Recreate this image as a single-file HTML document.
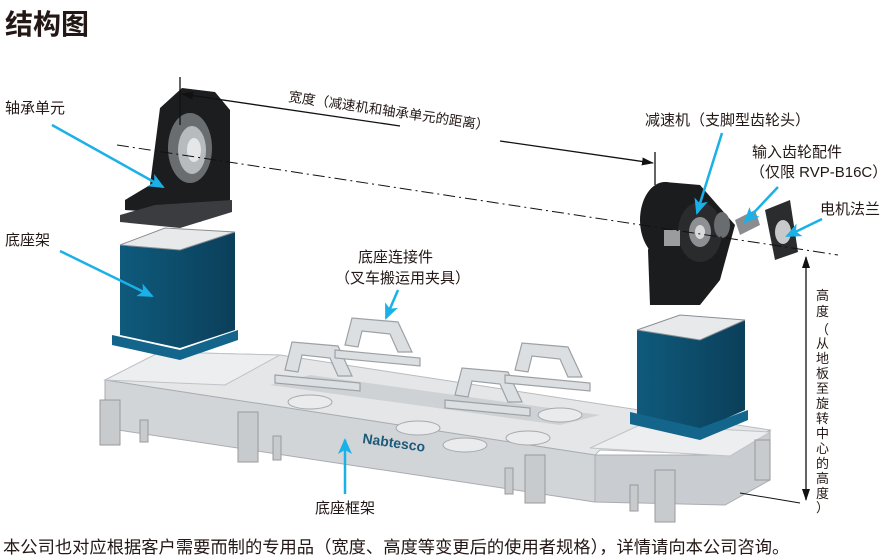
<!DOCTYPE html>
<html><head><meta charset="utf-8">
<style>
body{margin:0;background:#fff;width:889px;height:560px;overflow:hidden;font-family:"Liberation Sans","Noto Sans CJK SC",sans-serif;}
svg{position:absolute;left:0;top:0}
text{font-family:"Liberation Sans","Noto Sans CJK SC",sans-serif;fill:#231815}
</style></head><body>
<svg width="889" height="560" viewBox="0 0 889 560">
<defs>
<marker id="bk" markerWidth="12" markerHeight="8" refX="11" refY="4" orient="auto" markerUnits="userSpaceOnUse"><path d="M0,0L12,4L0,8z" fill="#111"/></marker>
<marker id="bl" markerWidth="16" markerHeight="14" refX="14" refY="7" orient="auto" markerUnits="userSpaceOnUse"><path d="M0,0L16,7L0,14L4,7z" fill="#1ab0e8"/></marker>
<linearGradient id="gb" x1="0" x2="1"><stop offset="0" stop-color="#0f5a7c"/><stop offset="1" stop-color="#0b3f5a"/></linearGradient>
</defs>
<text x="5" y="34" font-size="28" font-weight="bold">结构图</text>

<!-- base frame -->
<polygon points="105,380 160,352 280,355 770,430 730,455 600,450 595,455" fill="#e4e6e8" stroke="#b8bcc0"/>
<polygon points="105,380 595,455 595,502 105,428" fill="#d2d5d8" stroke="#a9adb1"/>
<polygon points="595,455 730,455 770,430 770,480 725,505 595,502" fill="#c9ccd0" stroke="#a9adb1"/>
<polygon points="270,385 560,425 600,415 310,375" fill="#cfd2d5"/>
<polygon points="105,380 160,352 280,355 225,385" fill="#eceef0" stroke="#c0c3c6"/>
<polygon points="590,448 640,425 770,432 730,456" fill="#eceef0" stroke="#c0c3c6"/>
<!-- feet -->
<g fill="#c8cbce" stroke="#999">
<rect x="100" y="400" width="20" height="45"/><rect x="238" y="412" width="20" height="50"/>
<rect x="525" y="455" width="20" height="48"/><rect x="655" y="470" width="20" height="52"/>
<rect x="755" y="440" width="15" height="40"/>
<rect x="140" y="420" width="8" height="22"/><rect x="273" y="436" width="8" height="24"/><rect x="505" y="468" width="8" height="26"/><rect x="630" y="485" width="8" height="26"/>
</g>
<!-- handles -->
<g fill="#dcdfe1" stroke="#9da1a5" stroke-width="1.2">
<path d="M345,345 L352,318 L398,322 L412,352 L398,352 L390,334 L362,331 L358,347z"/>
<path d="M285,370 L292,342 L338,346 L352,376 L338,376 L330,358 L302,355 L298,372z"/>
<path d="M455,395 L462,368 L508,372 L522,402 L508,402 L500,384 L472,381 L468,397z"/>
<path d="M515,370 L522,343 L568,347 L582,377 L568,377 L560,359 L532,356 L528,372z"/>
<path d="M335,350 L420,358 L420,366 L335,358z M275,375 L360,383 L360,391 L275,383z M445,400 L530,408 L530,416 L445,408z M505,375 L590,383 L590,391 L505,383z"/>
</g>
<g fill="#e9ebed" stroke="#a6aaae"><ellipse cx="310" cy="402" rx="22" ry="7"/><ellipse cx="418" cy="428" rx="22" ry="7"/><ellipse cx="528" cy="438" rx="22" ry="7"/><ellipse cx="560" cy="415" rx="22" ry="7"/><ellipse cx="465" cy="445" rx="22" ry="7"/></g>
<text x="0" y="0" font-size="14" font-weight="bold" style="fill:#1d5a7a" transform="translate(362,443) rotate(8)">Nabtesco</text>

<!-- left pedestal -->
<polygon points="120,245 165,228 235,232 235,330 180,348 120,335" fill="url(#gb)"/>
<polygon points="120,245 165,228 235,232 180,250" fill="#e7e9eb" stroke="#8a8f93"/>
<polygon points="112,335 180,350 238,330 238,340 180,360 112,345" fill="#13658b"/>
<!-- bearing unit -->
<polygon points="160,108 182,88 215,92 230,110 230,205 200,222 155,212 125,210 125,200 150,185" fill="#1c1d1f"/>
<ellipse cx="190" cy="148" rx="22" ry="35" fill="#6a6d70"/><ellipse cx="192" cy="150" rx="14" ry="24" fill="#b8bbbe"/><ellipse cx="194" cy="150" rx="7" ry="12" fill="#e4e6e8"/>
<polygon points="120,215 155,205 232,200 232,212 180,228 120,222" fill="#3a3c3f"/>

<!-- right pedestal -->
<polygon points="637,330 680,315 745,320 745,410 700,430 637,418" fill="url(#gb)"/>
<polygon points="637,330 680,315 745,320 700,340" fill="#e7e9eb" stroke="#8a8f93"/>
<polygon points="630,412 700,428 748,410 748,420 700,440 630,424" fill="#13658b"/>
<!-- reducer -->
<ellipse cx="665" cy="220" rx="25" ry="38" fill="#1b1c1e"/>
<polygon points="665,182 700,185 735,225 720,280 700,305 650,305 648,250" fill="#1b1c1e"/>
<ellipse cx="700" cy="232" rx="22" ry="30" fill="#2a2b2d"/>
<ellipse cx="700" cy="232" rx="11" ry="15" fill="#8d9093"/><ellipse cx="700" cy="232" rx="5" ry="7" fill="#d8dadc"/>
<rect x="664" y="230" width="16" height="16" fill="#9a9da0"/>
<ellipse cx="722" cy="225" rx="8" ry="13" fill="#6a6d70"/>
<path d="M735,220 L755,210 L760,225 L740,235z" fill="#8a8d90"/>
<polygon points="765,210 790,200 798,252 775,260" fill="#2b2c2e"/>
<ellipse cx="783" cy="232" rx="8" ry="12" fill="#c7c9cb"/>

<!-- dimension lines -->
<line x1="180" y1="77" x2="180" y2="125" stroke="#111" stroke-width="1.3"/>
<line x1="655" y1="152" x2="655" y2="185" stroke="#111" stroke-width="1.3"/>
<line x1="400" y1="126" x2="182" y2="94" stroke="#111" stroke-width="1.3" marker-end="url(#bk)"/>
<line x1="500" y1="141" x2="653" y2="163" stroke="#111" stroke-width="1.3" marker-end="url(#bk)"/>
<text font-size="13.5" transform="translate(288,101) rotate(8.3)">宽度（减速机和轴承单元的距离）</text>
<line x1="117" y1="145" x2="838" y2="255" stroke="#111" stroke-width="1" stroke-dasharray="12,4,2,4"/>
<line x1="806" y1="400" x2="806" y2="257" stroke="#111" stroke-width="1.3" marker-end="url(#bk)"/>
<line x1="806" y1="400" x2="806" y2="500" stroke="#111" stroke-width="1.3" marker-end="url(#bk)"/>
<line x1="740" y1="493" x2="800" y2="503" stroke="#111" stroke-width="1"/>
<g font-size="13">
<text x="816" y="300">高</text><text x="816" y="316">度</text>
<text x="816" y="334">（</text><text x="816" y="348">从</text><text x="816" y="363">地</text><text x="816" y="378">板</text><text x="816" y="393">至</text><text x="816" y="408">旋</text><text x="816" y="423">转</text><text x="816" y="438">中</text><text x="816" y="453">心</text><text x="816" y="468">的</text><text x="816" y="483">高</text><text x="816" y="498">度</text><text x="816" y="512">）</text>
</g>

<!-- blue arrows -->
<g stroke="#1ab0e8" stroke-width="2.5" fill="none">
<line x1="52" y1="125" x2="163" y2="187" marker-end="url(#bl)"/>
<line x1="60" y1="251" x2="152" y2="296" marker-end="url(#bl)"/>
<line x1="398" y1="290" x2="386" y2="318" marker-end="url(#bl)"/>
<line x1="722" y1="133" x2="697" y2="213" marker-end="url(#bl)"/>
<line x1="778" y1="187" x2="745" y2="222" marker-end="url(#bl)"/>
<line x1="822" y1="219" x2="787" y2="236" marker-end="url(#bl)"/>
<line x1="345" y1="494" x2="345" y2="440" marker-end="url(#bl)"/>
</g>

<g font-size="15">
<text x="5" y="113">轴承单元</text>
<text x="5" y="245">底座架</text>
<text x="358" y="262">底座连接件</text>
<text x="335" y="283">（叉车搬运用夹具）</text>
<text x="645" y="125">减速机（支脚型齿轮头）</text>
<text x="752" y="157">输入齿轮配件</text>
<text x="750" y="177">（仅限 RVP-B16C）</text>
<text x="820" y="214">电机法兰</text>
<text x="315" y="513">底座框架</text>
</g>
<text x="3" y="553" font-size="17.3">本公司也对应根据客户需要而制的专用品（宽度、高度等变更后的使用者规格），详情请向本公司咨询。</text>
</svg>
</body></html>
